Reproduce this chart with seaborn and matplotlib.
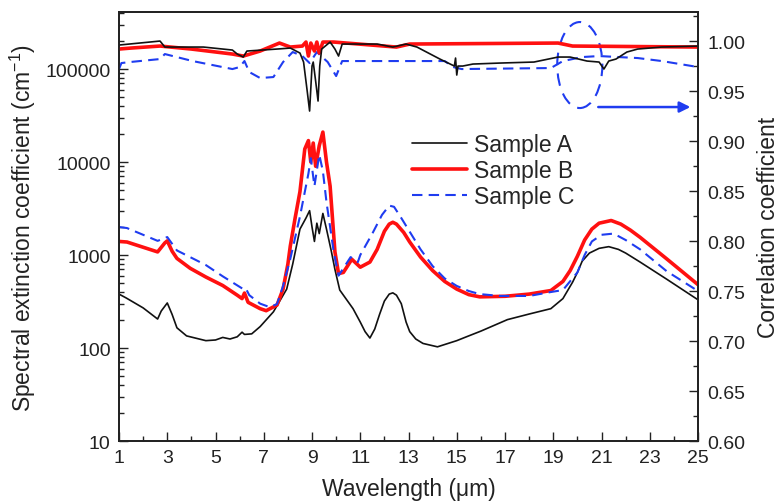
import numpy as np
import pandas as pd
import matplotlib
matplotlib.use("Agg")
import matplotlib.pyplot as plt
import seaborn as sns
from matplotlib.ticker import FixedLocator, MultipleLocator, FuncFormatter, LogLocator, NullFormatter
from matplotlib.patches import Ellipse
from matplotlib.lines import Line2D

# ---------------- data ----------------
ext_a_wl = [1.0, 1.3, 2.0, 2.6, 2.75, 3.0, 3.2, 3.4, 3.8, 4.6, 5.0, 5.3, 5.6, 5.9, 6.1, 6.2, 6.5, 6.85,
            7.4, 7.95, 8.2, 8.5, 8.75, 8.9, 9.0, 9.1, 9.2, 9.3, 9.45, 9.6, 9.8, 9.95, 10.15, 10.7, 11.0,
            11.2, 11.4, 11.6, 11.8, 12.0, 12.2, 12.35, 12.5, 12.7, 12.9, 13.05, 13.3, 13.6, 14.2, 15.0,
            15.4, 16.0, 17.1, 18.0, 18.9, 19.4, 19.8, 20.0, 20.2, 20.5, 20.9, 21.3, 21.7, 22.0, 22.6,
            23.7, 25.0]
ext_a = [380, 345, 270, 205, 250, 305, 230, 165, 135, 120, 122, 130, 125, 132, 148, 140, 142, 170,
         245, 430, 800, 1900, 2500, 3000, 2000, 1400, 2200, 1700, 2800, 1900, 1100, 700, 420, 265, 190,
         150, 128, 160, 230, 320, 380, 392, 370, 300, 190, 150, 125, 112, 103, 120,
         132, 152, 202, 232, 265, 340, 510, 650, 860, 1050, 1180, 1230, 1150, 1050, 840,
         550, 330]

ext_b_wl = [1.0, 1.33, 2.6, 2.9, 3.0, 3.2, 3.4, 3.95, 4.6, 5.3, 5.9, 6.1, 6.2, 6.35, 6.85, 7.1, 7.55,
            7.8, 8.0, 8.1, 8.3, 8.5, 8.7, 8.85, 8.95, 9.05, 9.15, 9.3, 9.45, 9.6, 9.75, 9.95, 10.1,
            10.3, 10.65, 11.0, 11.4, 11.7, 12.0, 12.2, 12.35, 12.5, 12.8, 13.05, 13.5, 14.0, 14.5,
            15.0, 15.5, 15.95, 17.0, 18.0, 18.9, 19.4, 19.7, 20.0, 20.3, 20.6, 20.9, 21.4, 21.8,
            22.2, 22.6, 23.7, 25.0]
ext_b = [1400, 1380, 1080, 1350, 1420, 1100, 920, 720, 580, 470, 370, 340, 390, 310, 265, 252, 290,
         430, 800, 1250, 2500, 4800, 13800, 17000, 10000, 16000, 9000, 15000, 21000, 10000, 5500, 1080,
         630, 650, 900, 740, 840, 1150, 1800, 2150, 2250, 2150, 1750, 1380, 950, 680, 520,
         430, 375, 355, 360, 380, 415, 520, 680, 970, 1450, 1900, 2200, 2350, 2150,
         1850, 1550, 910, 480]

ext_c_wl = [1.0, 1.33, 2.6, 3.0, 3.4, 4.6, 5.3, 6.15, 6.25, 6.4, 6.85, 7.25, 7.55, 7.8, 8.1, 8.5, 8.85,
            8.95, 9.1, 9.3, 9.45, 9.6, 9.9, 10.1, 10.6, 10.9, 11.0, 11.5, 11.9, 12.2, 12.4, 12.7, 13.05,
            13.5, 14.0, 14.5, 15.0, 15.5, 15.95, 16.8, 18.0, 18.9, 19.4, 20.0, 20.3, 20.6, 21.0, 21.5,
            22.0, 22.6, 23.7, 25.0]
ext_c = [2000, 1950, 1420, 1560, 1120, 780, 590, 430, 440, 370, 300, 275, 297, 465, 910, 2600, 7500,
         11000, 5500, 12000, 8000, 3700, 1080, 600, 950, 840, 1000, 1700, 2700, 3400, 3300, 2500, 1780,
         1150, 760, 560, 465, 410, 380, 363, 363, 400, 420, 650, 1000, 1400, 1650, 1700,
         1450, 1150, 670, 410]

cor_a_wl = [1.0, 2.7, 2.9, 4.5, 5.7, 5.9, 6.15, 6.3, 7.55, 8.1, 8.5, 8.65, 8.8, 8.9, 9.0, 9.05, 9.15,
            9.25, 9.32, 9.4, 9.75, 9.95, 10.1, 10.25, 11.7, 12.35, 12.9, 13.35, 14.3, 14.9, 14.95,
            15.0, 15.05, 15.25, 15.67, 16.8, 18.2, 19.2, 19.7, 20.4, 20.9, 21.1, 21.3, 21.6, 22.05,
            22.5, 23.5, 25.0]
cor_a = [0.996, 1.000, 0.994, 0.994, 0.991, 0.987, 0.984, 0.990, 0.992, 0.993, 0.988, 0.979, 0.950,
         0.930, 0.975, 0.979, 0.960, 0.940, 0.975, 0.992, 0.999, 0.992, 0.985, 0.997, 0.997, 0.994,
         0.997, 0.994, 0.982, 0.975, 0.983, 0.966, 0.975, 0.975, 0.977, 0.978, 0.979, 0.984, 0.984,
         0.980, 0.979, 0.972, 0.980, 0.982, 0.989, 0.992, 0.994, 0.995]

cor_b_wl = [1.0, 1.5, 2.7, 4.0, 5.7, 6.15, 6.85, 7.65, 8.1, 8.6, 8.75, 8.85, 8.95, 9.1, 9.2, 9.3,
            9.45, 9.9, 12.5, 13.05, 19.2, 19.8, 25.0]
cor_b = [0.992, 0.993, 0.995, 0.992, 0.987, 0.985, 0.990, 0.998, 0.994, 0.995, 0.999, 0.985, 0.998,
         0.990, 0.999, 0.988, 0.999, 0.999, 0.994, 0.997, 0.998, 0.995, 0.994]

cor_c_wl = [1.0, 1.1, 1.45, 2.7, 2.9, 4.05, 5.7, 6.0, 6.2, 6.4, 6.85, 7.4, 7.8, 8.2, 8.6, 8.9, 9.2,
            9.65, 10.0, 10.25, 14.5, 14.85, 15.2, 18.9, 19.4, 20.2, 20.9, 22.5, 23.5, 25.0]
cor_c = [0.972, 0.978, 0.979, 0.982, 0.987, 0.980, 0.972, 0.974, 0.980, 0.969, 0.963, 0.964, 0.979,
         0.989, 0.985, 0.978, 0.989, 0.979, 0.965, 0.980, 0.980, 0.974, 0.972, 0.973, 0.980, 0.984,
         0.985, 0.983, 0.980, 0.974]

labels = ["Sample A", "Sample B", "Sample C"]
x_ticks = list(range(1, 26, 2))
left_ticks = [10, 100, 1000, 10000, 100000]
right_ticks = [0.60, 0.65, 0.70, 0.75, 0.80, 0.85, 0.90, 0.95, 1.00]

# ---------------- style ----------------
sns.set_theme(style="ticks")
plt.rcParams["font.family"] = ["Liberation Sans", "DejaVu Sans"]
plt.rcParams["mathtext.default"] = "regular"

BLACK = "#111111"
RED = "#ff1010"
BLUE = "#1f3cf0"

fig = plt.figure(figsize=(7.82, 5.02), dpi=100)
ax = fig.add_axes([0.1522, 0.1195, 0.7404, 0.8545])
ax2 = ax.twinx()

# extinction curves (left, log)
sns.lineplot(x=ext_a_wl, y=ext_a, ax=ax, color=BLACK, lw=1.2, estimator=None, sort=False)
sns.lineplot(x=ext_b_wl, y=ext_b, ax=ax, color=RED, lw=2.6, estimator=None, sort=False)
sns.lineplot(x=ext_c_wl, y=ext_c, ax=ax, color=BLUE, lw=1.5, estimator=None, sort=False,
             linestyle=(0, (5, 3)))

# correlation curves (right)
sns.lineplot(x=cor_c_wl, y=cor_c, ax=ax2, color=BLUE, lw=1.5, estimator=None, sort=False,
             linestyle=(0, (5, 3)))
sns.lineplot(x=cor_b_wl, y=cor_b, ax=ax2, color=RED, lw=2.6, estimator=None, sort=False)
sns.lineplot(x=cor_a_wl, y=cor_a, ax=ax2, color=BLACK, lw=1.2, estimator=None, sort=False)

for ln in ax.lines + ax2.lines:
    ln.set_solid_joinstyle("round")
    ln.set_dash_joinstyle("round")

# axes setup
ax.set_yscale("log")
ax.set_xlim(1, 25)
ax.set_ylim(10, 4.1e5)
ax2.set_ylim(0.60, 1.029)

ax.xaxis.set_major_locator(FixedLocator(x_ticks))
ax.xaxis.set_minor_locator(MultipleLocator(1))
ax.yaxis.set_major_locator(FixedLocator(left_ticks))
ax.yaxis.set_major_formatter(FuncFormatter(lambda v, p: f"{int(round(v))}"))
ax.yaxis.set_minor_locator(LogLocator(base=10, subs=np.arange(2, 10)))
ax.yaxis.set_minor_formatter(NullFormatter())
ax2.yaxis.set_major_locator(FixedLocator(right_ticks))
ax2.yaxis.set_major_formatter(FuncFormatter(lambda v, p: f"{v:.2f}"))
ax2.yaxis.set_minor_locator(MultipleLocator(0.025))

for a in (ax, ax2):
    a.tick_params(which="major", direction="in", length=6.5, width=1.0, labelsize=14,
                  color="#222222", labelcolor="#222222", pad=6)
    a.tick_params(which="minor", direction="in", length=3.5, width=1.0, color="#222222")
    for s in a.spines.values():
        s.set_linewidth(1.3)
        s.set_color("#222222")
        s.set_visible(True)
ax.tick_params(axis="x", pad=6)
ax2.tick_params(axis="y", pad=7)

ax.set_xlabel("Wavelength (μm)", fontsize=16.5, color="#222222", labelpad=8)
ax.set_ylabel("Spectral extinction coefficient (cm$^{-1}$)", fontsize=16.5, color="#222222", labelpad=5)
ax2.set_ylabel("Correlation coefficient", fontsize=16.5, color="#222222", labelpad=8)

# annotation: ellipse + arrow pointing to right axis
ell = Ellipse((20.1, 0.976), width=1.87, height=0.086, fill=False, edgecolor=BLUE, lw=1.5,
              linestyle=(0, (6, 4)), angle=0)
ax2.add_patch(ell)
ax2.annotate("", xy=(24.8, 0.934), xytext=(20.75, 0.934),
             arrowprops=dict(arrowstyle="-|>", color=BLUE, lw=1.8, mutation_scale=16))

# legend
handles = [Line2D([], [], color=BLACK, lw=1.2),
           Line2D([], [], color=RED, lw=2.6),
           Line2D([], [], color=BLUE, lw=1.5, linestyle=(0, (5, 3)))]
ax2.legend(handles, labels, loc="upper left", bbox_to_anchor=(412 / 782, 1 - 134 / 502),
           bbox_transform=fig.transFigure, frameon=False, fontsize=16.5, handlelength=2.4,
           handletextpad=0.3, labelspacing=0.14, borderpad=0, borderaxespad=0)

fig.savefig("out.png", dpi=100)
